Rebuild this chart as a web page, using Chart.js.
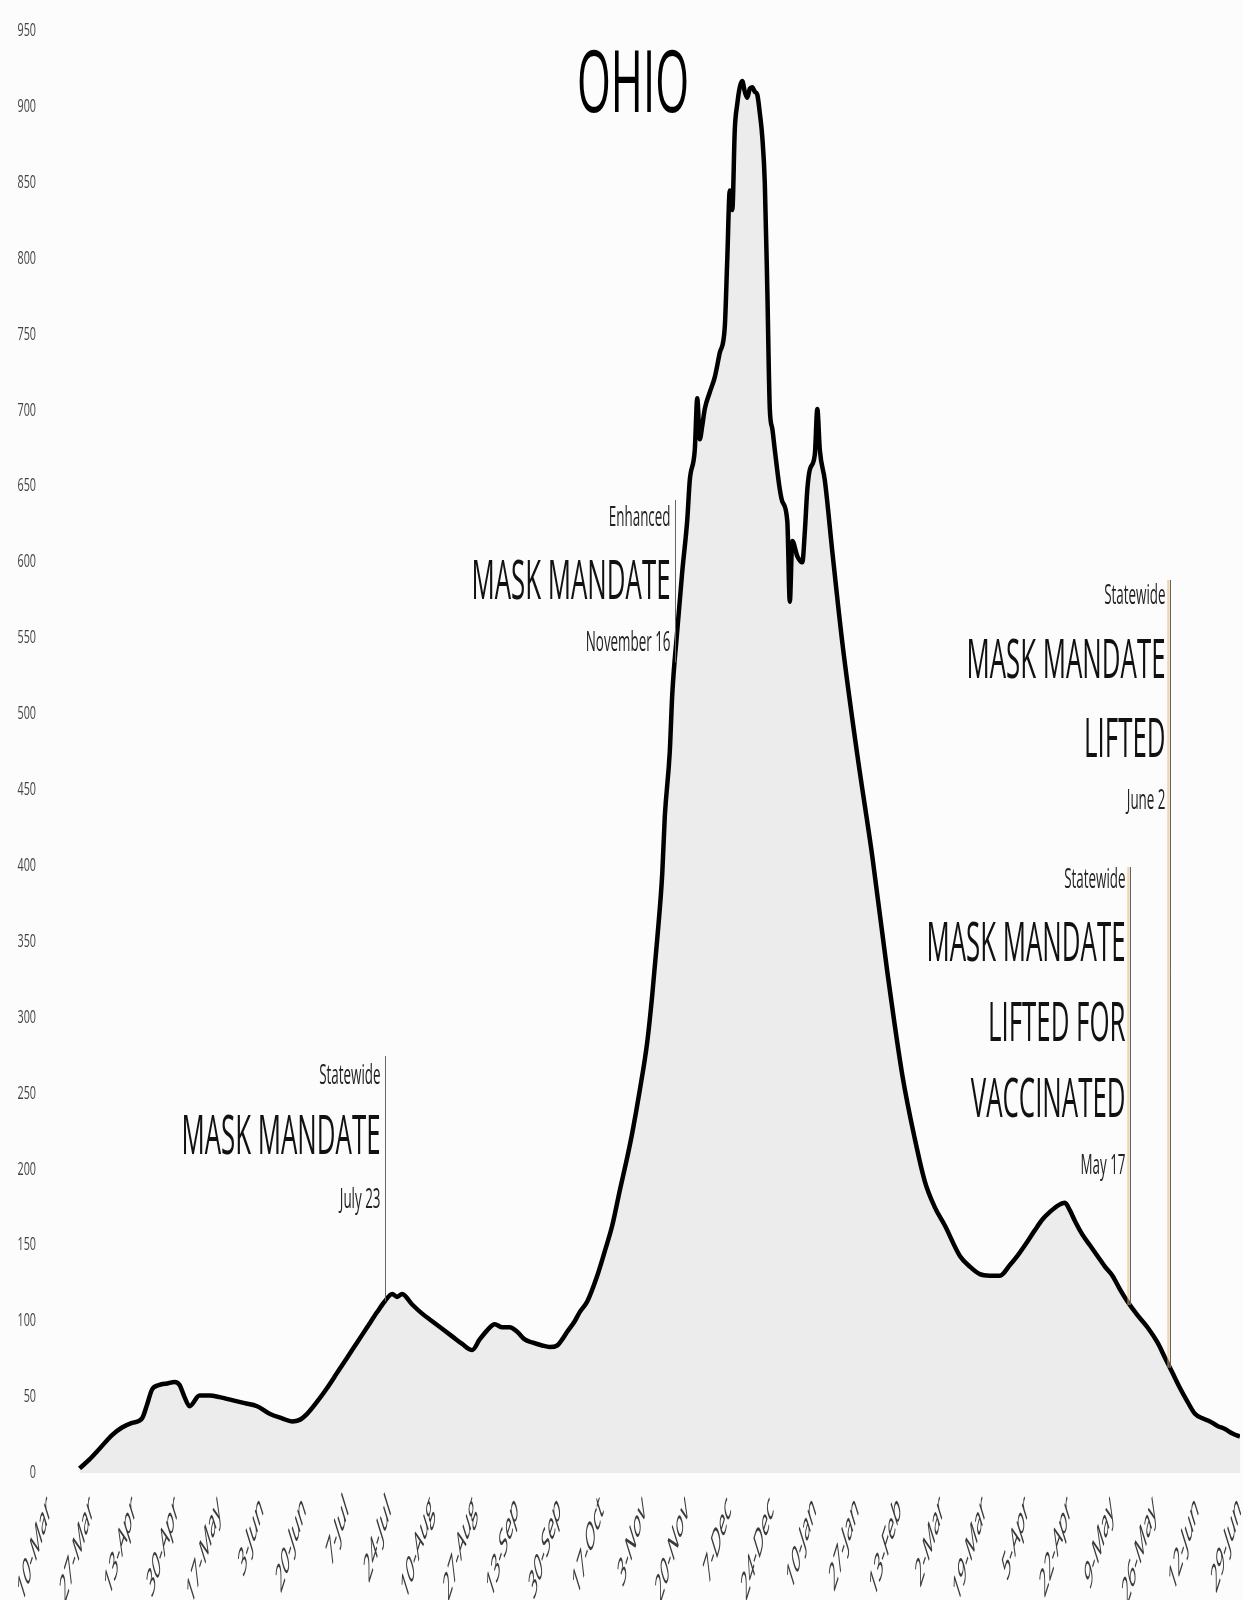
<!DOCTYPE html>
<html>
<head>
<meta charset="utf-8">
<script src="https://cdn.jsdelivr.net/npm/chart.js@4.4.1/dist/chart.umd.min.js"></script>
<style>
  html, body { margin: 0; padding: 0; background: #fcfcfc; }
  canvas { display: block; }
</style>
</head>
<body>
<canvas id="ohio" width="1243" height="1600"></canvas>
<script>
// days counted from 10-Mar-2020
const days = [13,17,21,26,30,34,38,40,42,45,48,51,53,55,57,61,65,69,74,79,84,89,94,98,101,104,108,112,116,120,124,128,132,135,138,140,142,146,150,154,158,162,166,170,173,176,179,182,185,188,191,194,198,201,204,206,208,211,213,216,220,223,226,229,232,234,237,240,242,244,246,247,249,250,252,254,256,257,259,260,261,262,263,265,267,269,271,272,273,274,275,276,277,278,279,280,281,282,283,284,285,286,287,288,289,290,291,293,294,296,297,298,300,302,303,304,305,307,308,309,311,314,318,324,330,336,342,347,351,355,359,365,369,373,377,381,385,388,391,395,398,401,404,407,409,411,414,417,420,423,426,429,432,436,440,444,447,450,453,456,459,462,465,468,471,474,477];
const cases = [3,9,16,25,30,33,36,45,55,58,59,60,58,50,44,51,51,50,48,46,44,39,36,34,35,39,47,56,66,76,86,96,106,113,118,116,118,111,105,100,95,90,85,81,88,94,98,96,96,93,88,86,84,83,84,88,93,100,106,113,130,146,163,186,208,224,252,284,315,352,395,432,475,513,555,594,628,654,674,708,681,690,701,712,722,738,755,800,845,832,885,902,913,917,910,906,912,913,910,908,896,880,850,780,701,688,674,648,640,627,574,614,604,600,620,648,661,671,701,674,654,607,547,473,406,330,262,220,192,175,163,143,136,131,130,130,137,143,150,160,167,172,176,178,173,166,157,150,143,136,130,121,113,104,96,86,76,66,56,47,39,36,34,31,29,26,24];

const tickDays = [0,17,34,51,68,85,102,119,136,153,170,187,204,221,238,255,272,289,306,323,340,357,374,391,408,425,442,459,476];
const tickLabels = ['10-Mar','27-Mar','13-Apr','30-Apr','17-May','3-Jun','20-Jun','7-Jul','24-Jul','10-Aug','27-Aug','13-Sep','30-Sep','17-Oct','3-Nov','20-Nov','7-Dec','24-Dec','10-Jan','27-Jan','13-Feb','2-Mar','19-Mar','5-Apr','22-Apr','9-May','26-May','12-Jun','29-Jun'];

const eventDays = [135, 251, 433, 449];
const eventLines = [
  ['Statewide', 'MASK MANDATE', 'July 23'],
  ['Enhanced', 'MASK MANDATE', 'November 16'],
  ['Statewide', 'MASK MANDATE', 'LIFTED FOR', 'VACCINATED', 'May 17'],
  ['Statewide', 'MASK MANDATE', 'LIFTED', 'June 2']
];

// where each label block sits (baselines) and where its rule starts
const eventBaselines = [
  [1084, 1154, 1208],
  [526, 599, 651],
  [888, 961, 1041, 1117, 1174],
  [604, 678, 757, 809]
];
const eventTops = [1056, 500, 867, 580];

const FONT = "'Open Sans', 'DejaVu Sans', sans-serif";

function squeezed(ctx, text, x, y, size, kx, align, baseline) {
  ctx.save();
  ctx.font = size + 'px ' + FONT;
  ctx.translate(x, y);
  ctx.scale(kx, 1);
  ctx.textAlign = align;
  ctx.textBaseline = baseline || 'alphabetic';
  ctx.fillText(text, 0, 0);
  ctx.restore();
}

function valueAt(d) {
  for (let i = 1; i < days.length; i++) {
    if (days[i] >= d) {
      const t = (d - days[i - 1]) / (days[i] - days[i - 1]);
      return cases[i - 1] + t * (cases[i] - cases[i - 1]);
    }
  }
  return cases[cases.length - 1];
}

const paper = {
  id: 'paper',
  beforeDraw(chart) {
    const c = chart.ctx;
    c.save();
    c.fillStyle = '#fcfcfc';
    c.fillRect(0, 0, chart.width, chart.height);
    c.restore();
  },
  afterDatasetsDraw(chart) {
    const c = chart.ctx;
    const xs = chart.scales.x, ys = chart.scales.y;

    // y tick labels
    c.fillStyle = '#444';
    ys.ticks.forEach(t => {
      squeezed(c, String(t.value), 36, ys.getPixelForValue(t.value), 18, 0.6, 'right', 'middle');
    });

    // x tick labels, steep and narrow
    c.fillStyle = '#3a3a3a';
    tickDays.forEach((d, i) => {
      const px = xs.getPixelForValue(d);
      c.save();
      c.translate(px + 2, 1503);
      c.scale(0.31, 1);
      c.rotate(-Math.PI / 4);
      c.font = '40px ' + FONT;
      c.textAlign = 'right';
      c.textBaseline = 'middle';
      c.fillText(tickLabels[i], 0, 0);
      c.restore();
    });

    // title
    c.save();
    c.font = '86px ' + FONT;
    const tk = 112 / c.measureText('OHIO').width;
    c.restore();
    c.fillStyle = '#000';
    squeezed(c, 'OHIO', 633, 112, 86, tk, 'center');

    // event rules and labels
    c.save();
    c.font = '54px ' + FONT;
    const kx = 199 / c.measureText('MASK MANDATE').width;
    c.restore();

    eventDays.forEach((d, i) => {
      const px = Math.round(xs.getPixelForValue(d)) + 0.5;
      const bottom = ys.getPixelForValue(valueAt(d));
      if (i >= 2) {
        c.save();
        c.strokeStyle = 'rgba(226,180,120,0.55)';
        c.lineWidth = 2.5;
        c.beginPath();
        c.moveTo(px - 2, eventTops[i]);
        c.lineTo(px - 2, bottom);
        c.stroke();
        c.restore();
      }
      c.save();
      c.strokeStyle = '#666';
      c.lineWidth = 1;
      c.beginPath();
      c.moveTo(px, eventTops[i]);
      c.lineTo(px, bottom);
      c.stroke();
      c.restore();

      eventLines[i].forEach((txt, j) => {
        const big = txt === txt.toUpperCase();
        c.fillStyle = big ? '#111' : '#222';
        squeezed(c, txt, px - 5, eventBaselines[i][j], big ? 54 : 28, kx, 'right');
      });
    });
  }
};

new Chart(document.getElementById('ohio'), {
  type: 'line',
  data: {
    datasets: [{
      data: days.map((d, i) => ({ x: d, y: cases[i] })),
      borderColor: '#000',
      borderWidth: 4.5,
      pointRadius: 0,
      fill: 'origin',
      backgroundColor: '#ececec',
      cubicInterpolationMode: 'monotone'
    }]
  },
  options: {
    responsive: false,
    animation: false,
    layout: { padding: { top: 31, right: 3, left: 0, bottom: 0 } },
    plugins: { legend: { display: false }, tooltip: { enabled: false } },
    scales: {
      x: {
        type: 'linear',
        min: 0,
        max: 477,
        grid: { display: false },
        border: { display: false },
        ticks: { display: false },
        afterBuildTicks: s => { s.ticks = tickDays.map(v => ({ value: v })); },
        afterFit: s => { s.height = 127; }
      },
      y: {
        min: 0,
        max: 950,
        grid: { display: false },
        border: { display: false },
        ticks: { display: false, stepSize: 50 },
        afterFit: s => { s.width = 47; }
      }
    }
  },
  plugins: [paper]
});
</script>
</body>
</html>
